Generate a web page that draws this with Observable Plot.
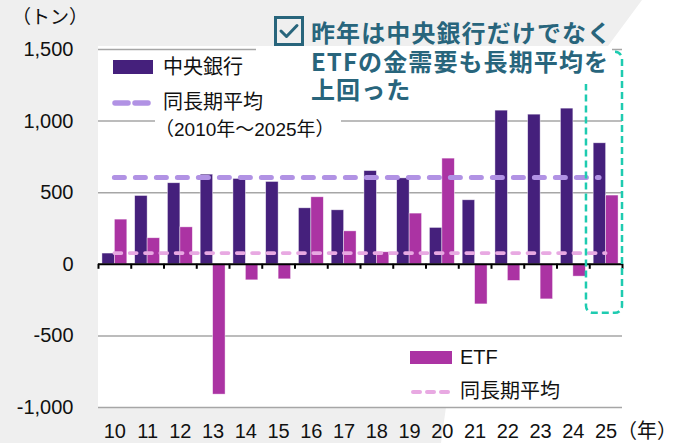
<!DOCTYPE html>
<html>
<head>
<meta charset="utf-8">
<script src="https://cdn.jsdelivr.net/npm/d3@7"></script>
<script src="https://cdn.jsdelivr.net/npm/@observablehq/plot@0.6"></script>
<style>
  html, body { margin: 0; padding: 0; }
  body { width: 683px; height: 443px; overflow: hidden; font-family: "Liberation Sans", "Noto Sans CJK JP", sans-serif; color: #111; }
  #wrap { position: relative; width: 683px; height: 443px; background: #efefef; }
  #white { position: absolute; left: 0; top: 0; width: 683px; height: 443px; background: #fff;
    clip-path: polygon(98px 46px, 608px 46px, 642px 0px, 683px 0px, 683px 443px, 441px 443px, 446px 407px, 98px 407px); }
  #chart { position: absolute; left: 0; top: 0; }
  .abs { position: absolute; white-space: nowrap; }
  .lg { font-size: 20px; line-height: 24px; }
  .note { font-family: 'Noto Sans CJK JP', sans-serif; font-weight: 700; font-size: 24px; line-height: 26px; height: 26px; letter-spacing: 1.1px; }
</style>
</head>
<body>
<div id="wrap">
  <div id="white"></div>
  <div id="chart"></div>
</div>
<script>
// ---- data (tonnes) ----
const years = [10, 11, 12, 13, 14, 15, 16, 17, 18, 19, 20, 21, 22, 23, 24, 25];
const centralBank = [75, 477, 566, 626, 596, 575, 391, 377, 651, 600, 254, 447, 1073, 1045, 1087, 845];
const etf = [312, 182, 258, -910, -112, -105, 468, 230, 84, 354, 738, -280, -116, -245, -86, 480];
const yTicks = [-1000, -500, 0, 500, 1000, 1500];
const gridValues = [-1000, -500, 500, 1000, 1500];
const highlightYears = [25];
const highlightRange = [-342, 1480];

const labels = {
  unit: "（トン）",
  yearUnit: "（年）",
  cb: "中央銀行",
  etf: "ETF",
  avg: "同長期平均",
  avgPeriod: "（2010年～2025年）",
  note: ["昨年は中央銀行だけでなく", "ETFの金需要も長期平均を", "上回った"]
};

const colors = { cb: "#45207c", etf: "#ab33a3", cbAvg: "#b192e4", etfAvg: "#e8a9e2", grid: "#a6a6a6", teal: "#1ecbb0", note: "#28657c" };

const rows = years.map((y, i) => ({ year: y, cb: centralBank[i], etf: etf[i] }));
const cbAvg = d3.mean(centralBank);
const etfAvg = d3.mean(etf);
const bw = 0.38;
const boundaries = years.map(y => y - 0.5).concat([years[years.length - 1] + 0.5]);

const chart = Plot.plot({
  width: 683,
  height: 443,
  marginTop: 49,
  marginBottom: 36,
  marginLeft: 98,
  marginRight: 61,
  x: { type: "linear", domain: [years[0] - 0.5, years[years.length - 1] + 0.5] },
  y: { domain: [-1000, 1500] },
  style: { background: "transparent", fontFamily: "'Liberation Sans', 'Noto Sans CJK JP', sans-serif", color: "#111", overflow: "visible" },
  marks: [
    Plot.ruleY(gridValues, { stroke: colors.grid, strokeWidth: 1.5 }),
    Plot.rect(rows, { x1: d => d.year - bw, x2: d => d.year, y1: () => 0, y2: "cb", fill: colors.cb, stroke: "#fff", strokeOpacity: 0.6, strokeWidth: 0.7 }),
    Plot.rect(rows, { x1: d => d.year, x2: d => d.year + bw, y1: () => 0, y2: "etf", fill: colors.etf, stroke: "#fff", strokeOpacity: 0.6, strokeWidth: 0.7 }),
    Plot.ruleY([cbAvg], { x1: () => years[0], x2: () => years[years.length - 1] - 0.2, stroke: colors.cbAvg, strokeWidth: 5, strokeDasharray: "10,11", strokeLinecap: "round" }),
    Plot.ruleY([etfAvg], { x1: () => years[0], x2: () => years[years.length - 1], stroke: colors.etfAvg, strokeWidth: 3.7, strokeDasharray: "7,8.3", strokeLinecap: "round" }),
    Plot.ruleY([0], { stroke: "#000", strokeWidth: 2 }),
    Plot.ruleX(boundaries, { x: d => d, y1: () => 0, y2: () => 0, insetBottom: -5, stroke: "#000", strokeWidth: 2 }),
    Plot.rect(highlightYears, { x1: d => d - 0.6, x2: d => d + 0.5, y1: () => highlightRange[0], y2: () => highlightRange[1], fill: "none", stroke: colors.teal, strokeWidth: 2.5, strokeDasharray: "7,4", rx: 7 }),
    Plot.axisY(yTicks, { tickSize: 0, tickPadding: 25, fontSize: 20, tickFormat: d => d.toLocaleString("en-US") }),
    Plot.axisX(years, { tickSize: 0, tickPadding: 16, fontSize: 20, tickFormat: d => String(d) })
  ]
});
document.getElementById("chart").appendChild(chart);

const wrap = document.getElementById("wrap");
function add(html, style, cls) {
  const el = document.createElement("div");
  el.className = "abs " + (cls || "");
  el.setAttribute("style", style);
  el.innerHTML = html;
  wrap.appendChild(el);
  return el;
}
// unit labels
add(labels.unit, "left:12px; top:6px; font-size:19px; line-height:24px;");
add(labels.yearUnit, "left:617px; top:419px; font-size:20px; line-height:24px;");

// top legend
add(`<svg width="40" height="14"><rect width="40" height="14" fill="${colors.cb}"/></svg>`, "left:113px; top:60px; line-height:0;");
add(labels.cb, "left:163px; top:55px;", "lg");
add(`<svg width="42" height="8"><line x1="3" y1="4" x2="39" y2="4" stroke="${colors.cbAvg}" stroke-width="5.5" stroke-dasharray="13,7" stroke-linecap="round"/></svg>`, "left:112px; top:99px; line-height:0;");
add(labels.avg, "left:163px; top:90px;", "lg");
add(labels.avgPeriod, "left:155px; top:117px; width:186px; font-size:19px; line-height:25px; background:#fff;");

// bottom legend
add(`<svg width="42" height="13"><rect width="42" height="13" fill="${colors.etf}"/></svg>`, "left:410px; top:351px; line-height:0;");
add(labels.etf, "left:460px; top:345px;", "lg");
add(`<svg width="42" height="6"><line x1="3" y1="3" x2="40" y2="3" stroke="${colors.etfAvg}" stroke-width="4" stroke-dasharray="7,7" stroke-linecap="round"/></svg>`, "left:410px; top:389px; line-height:0;");
add(labels.avg, "left:460px; top:379px;", "lg");

// annotation
add("", "left:256px; top:46px; width:356px; height:38px; background:#fff;");
add(`<svg width="30" height="30" viewBox="0 0 30 30"><rect x="1.5" y="1.5" width="27" height="27" fill="none" stroke="${colors.note}" stroke-width="3"/><path d="M7 15 L12.5 20.5 L23 9.5" fill="none" stroke="${colors.note}" stroke-width="3" stroke-linecap="round" stroke-linejoin="round"/></svg>`, "left:274px; top:16px; line-height:0;");
labels.note.forEach((line, i) => {
  add(line, `left:311px; top:${19 + i * 28.5}px; color:${colors.note};`, "note");
});
</script>
</body>
</html>
